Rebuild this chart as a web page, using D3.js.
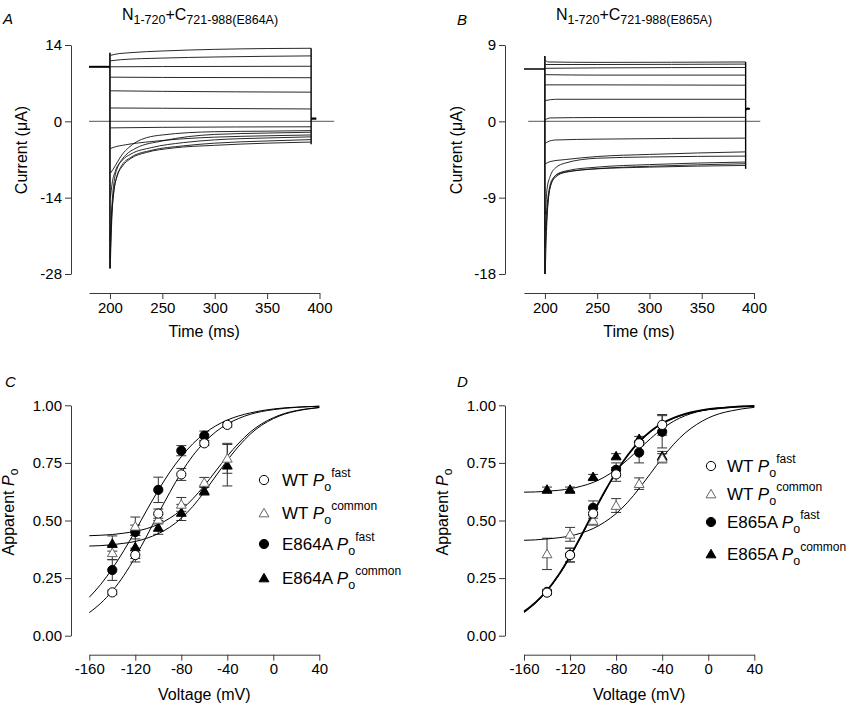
<!DOCTYPE html>
<html><head><meta charset="utf-8">
<script src="https://cdn.jsdelivr.net/npm/d3@7"></script>
<style>body{margin:0;background:#fff}svg{display:block;font-family:"Liberation Sans",Arial,Helvetica,sans-serif}</style>
</head><body><svg id="c" width="850" height="707"></svg>
<script>
// ---------------- DATA ----------------
// Panel A (E864A) current traces, time (ms) vs current (µA)
const holdingA = [[180, 10.0], [200, 10.0]];
const tailA = [[392, 0.5], [397, 0.5]];
const tracesA = [
  [[200.5,12.1],[205,12.3],[220,12.6],[250,12.9],[300,13.2],[350,13.35],[392,13.4]],
  [[200.5,11.1],[210,11.3],[250,11.6],[300,11.8],[392,12.0]],
  [[200.5,10.0],[250,10.05],[392,10.1]],
  [[200.5,8.1],[250,8.05],[392,8.0]],
  [[200.5,5.6],[250,5.5],[392,5.35]],
  [[200.5,2.45],[250,2.4],[392,2.27]],
  [[200.5,-1.2],[250,-1.1],[392,-1.0]],
  [[200.5,-5.0],[203,-4.8],[215,-4.3],[240,-3.7],[270,-3.2],[300,-2.9],[350,-2.65],[392,-2.5]],
  [[200.5,-9.5],[203,-8.8],[207,-7.5],[212,-6.0],[218,-4.8],[225,-3.8],[235,-3.0],[250,-2.5],[300,-1.9],[350,-1.8],[392,-1.7]],
  [[200.3,-27],[201,-22],[202,-17],[204,-12.5],[207,-10],[212,-8.2],[220,-6.8],[235,-5.7],[260,-4.9],[300,-4.4],[350,-4.0],[392,-3.8]],
  [[200.3,-25],[201.5,-18],[203,-14],[206,-10.5],[210,-8.5],[220,-6.6],[240,-5.3],[270,-4.5],[300,-4.0],[350,-3.6],[392,-3.35]],
  [[200.3,-22],[202,-15],[204,-11],[207,-8.6],[212,-7.1],[220,-6.0],[240,-4.8],[270,-3.9],[300,-3.4],[350,-3.05],[392,-2.85]],
  [[200.5,-14],[202,-11.5],[205,-9.2],[210,-7.4],[215,-6.2],[225,-4.9],[250,-3.6],[300,-2.4],[350,-2.15],[392,-2.0]]
];
// Panel B (E865A) current traces
const holdingB = [[180, 6.17], [200, 6.17]];
const tailB = [[392, 1.4], [394, 1.5], [396, 1.45]];
const tracesB = [
  [[200.5,7.2],[203,7.0],[250,6.95],[392,7.0]],
  [[200.5,6.7],[250,6.7],[392,6.75]],
  [[200.5,6.25],[250,6.3],[392,6.35]],
  [[200.5,5.5],[250,5.45],[392,5.45]],
  [[200.5,4.3],[250,4.3],[392,4.26]],
  [[200.5,2.45],[210,2.6],[250,2.6],[392,2.6]],
  [[200.5,0.2],[205,0.4],[250,0.45],[392,0.47]],
  [[200.5,-2.6],[203,-2.4],[210,-2.2],[250,-2.1],[392,-1.98]],
  [[200.5,-5.0],[205,-4.75],[220,-4.5],[250,-4.15],[300,-3.9],[392,-3.6]],
  [[200.5,-11],[202,-8],[205,-6.5],[210,-5.5],[220,-4.9],[250,-4.35],[300,-4.2],[392,-4.1]],
  [[200.3,-18],[201.5,-13],[203,-9.5],[205,-7.8],[210,-6.6],[220,-6.0],[250,-5.6],[300,-5.4],[392,-5.2]],
  [[200.3,-15],[202,-11],[204,-8.5],[207,-7.0],[212,-6.2],[222,-5.8],[250,-5.4],[300,-5.1],[392,-4.8]],
  [[200.3,-13],[202,-10],[205,-7.5],[208,-6.7],[215,-6.1],[230,-5.8],[260,-5.5],[300,-5.3],[392,-5.0]]
];
const tickTimes = [200, 250, 300, 350, 400];
const ticksA = [-28, -14, 0, 14];
const ticksB = [-18, -9, 0, 9];

// Panels C, D: apparent Po vs voltage
const voltages = [-140, -120, -100, -80, -60, -40];
const voltTicks = [-160, -120, -80, -40, 0, 40];
const poTicks = [0, 0.25, 0.5, 0.75, 1.0];
const fitV = [-160,-150,-140,-130,-120,-110,-100,-90,-80,-70,-60,-50,-40,-30,-20,-10,0,10,20,30,40];

const wtFastC    = [0.188, 0.35, 0.53, 0.70, 0.835, 0.915];
const wtFastCErr = [0.01, 0.03, 0.02, 0.026, 0.01, 0.01];
const wtComC     = [0.36, 0.475, 0.505, 0.57, 0.665, 0.77];
const wtComCErr  = [0.03, 0.04, 0.02, 0.03, 0.022, 0.065];
const e864Fast    = [0.285, 0.45, 0.633, 0.803, 0.868];
const e864FastErr = [0.045, 0.03, 0.055, 0.022, 0.02];
const e864Com     = [0.40, 0.385, 0.47, 0.535, 0.63, 0.74];
const e864ComErr  = [0.033, 0.05, 0.03, 0.035, 0.02, 0.09];

const wtFastD    = [0.187, 0.35, 0.53, 0.70, 0.835, 0.915];
const wtFastDErr = [0.01, 0.03, 0.02, 0.03, 0.01, 0.045];
const wtComD     = [0.355, 0.44, 0.50, 0.565, 0.66, 0.77];
const wtComDErr  = [0.068, 0.03, 0.02, 0.03, 0.025, 0.02];
const e865Fast    = [0.19, 0.35, 0.555, 0.72, 0.795, 0.885];
const e865FastErr = [0.01, 0.03, 0.03, 0.03, 0.045, 0.07];
const e865Com     = [0.635, 0.635, 0.69, 0.78, 0.855, 0.78];
const e865ComErr  = [0.01, 0.01, 0.01, 0.01, 0.01, 0.02];

// fitted curves (read at fitV)
const fitWtFast   = [.100,.141,.194,.261,.342,.433,.529,.622,.708,.781,.839,.885,.919,.943,.961,.973,.981,.987,.991,.994,.996];
const fitE864Fast = [.167,.223,.291,.369,.455,.545,.631,.710,.777,.833,.877,.911,.936,.954,.967,.977,.984,.989,.992,.994,.996];
const fitWtComC   = [.434,.436,.439,.445,.453,.465,.483,.510,.546,.594,.651,.715,.779,.836,.884,.920,.946,.965,.977,.985,.991];
const fitE864Com  = [.389,.391,.395,.401,.409,.423,.443,.471,.510,.561,.624,.693,.761,.823,.875,.914,.942,.962,.975,.984,.990];
const fitWtComD   = [.414,.416,.420,.425,.433,.446,.465,.493,.530,.579,.639,.705,.771,.831,.880,.917,.945,.964,.976,.985,.991];
const fitE865Fast = [.105,.145,.196,.263,.345,.437,.533,.625,.710,.783,.842,.888,.922,.946,.963,.975,.983,.988,.992,.995,.997];
const fitE865Com  = [.623,.624,.627,.631,.638,.649,.665,.689,.722,.764,.810,.856,.898,.931,.955,.971,.982,.989,.993,.996,.997];

// ---------------- DRAW ----------------
const svg = d3.select("#c");
const AX = "#3a3a3a";
const tickFont = 15, labFont = 16;

function styleAxis(g){
  g.selectAll("path,line").attr("stroke", AX).attr("stroke-width", 1);
  g.selectAll("text").attr("font-size", tickFont).attr("fill", "#000")
   .attr("font-family", '"Liberation Sans",Arial,sans-serif');
}

const xA = d3.scaleLinear().domain([180,400]).range([89,319.5]);
const yA = d3.scaleLinear().domain([-28,14]).range([274,45]);
const xB = d3.scaleLinear().domain([180,400]).range([524,754]);
const yB = d3.scaleLinear().domain([-18,9]).range([274,45]);
const xC = d3.scaleLinear().domain([-160,40]).range([89.3,319.3]);
const yC = d3.scaleLinear().domain([0,1]).range([635.7,405.3]);
const xD = d3.scaleLinear().domain([-160,40]).range([524,754.3]);
const yD = d3.scaleLinear().domain([0,1]).range([635.7,405.3]);

function tracePanel(x, y, yTicks, traces, holding, tail, zeroEnds, axX, axY, title, letter, letterPos, ylabPos, holdW){
  svg.append("line").attr("x1", x(zeroEnds[0])).attr("x2", x(zeroEnds[1]))
    .attr("y1", y(0)).attr("y2", y(0)).attr("stroke", "#777").attr("stroke-width", 1.2);
  const line = d3.line().x(d=>x(d[0])).y(d=>y(d[1])).curve(d3.curveMonotoneX);
  svg.append("path").attr("d", line(holding)).attr("fill","none").attr("stroke","#000").attr("stroke-width",holdW);
  const starts = traces.map(t=>t[0][1]);
  const ends = traces.map(t=>t[t.length-1][1]);
  const t0 = holding[holding.length-1][0];
  svg.append("line").attr("x1", x(t0)).attr("x2", x(t0))
    .attr("y1", y(d3.max(starts)+0.5)).attr("y2", y(d3.min(starts)))
    .attr("stroke","#000").attr("stroke-width",1.6);
  const t1 = traces[0][traces[0].length-1][0];
  svg.append("line").attr("x1", x(t1)).attr("x2", x(t1))
    .attr("y1", y(d3.max(ends))).attr("y2", y(d3.min(ends)-0.4))
    .attr("stroke","#000").attr("stroke-width",1.4);
  svg.append("g").selectAll("path").data(traces).join("path")
    .attr("d", line).attr("fill","none").attr("stroke","#111").attr("stroke-width",0.9);
  svg.append("path").attr("d", line(tail)).attr("fill","none").attr("stroke","#000").attr("stroke-width",2.2);
  const gy = svg.append("g").attr("transform", `translate(${axY},0)`)
    .call(d3.axisLeft(y).tickValues(yTicks).tickFormat(d=>String(d)).tickSize(6).tickSizeOuter(0));
  styleAxis(gy);
  const gx = svg.append("g").attr("transform", `translate(0,${axX})`)
    .call(d3.axisBottom(x).tickValues(tickTimes).tickFormat(d=>String(d)).tickSize(6).tickSizeOuter(0));
  styleAxis(gx);
  const xr = x.range();
  svg.append("text").attr("x",(xr[0]+xr[1])/2).attr("y",337).attr("text-anchor","middle")
    .attr("font-size",labFont).text("Time (ms)");
  const yl = svg.append("text").attr("transform",`translate(${ylabPos[0]},${ylabPos[1]}) rotate(-90)`)
    .attr("text-anchor","middle").attr("font-size",labFont);
  yl.append("tspan").text("Current (");
  yl.append("tspan").text("\u03BC");
  yl.append("tspan").text("A)");
  const tt = svg.append("text").attr("x", title.x).attr("y", 20).attr("text-anchor","middle").attr("font-size",16);
  tt.append("tspan").text("N");
  tt.append("tspan").attr("font-size",12.5).attr("dy",4).text("1-720");
  tt.append("tspan").attr("dy",-4).text("+C");
  tt.append("tspan").attr("font-size",12.5).attr("dy",4).text(title.sub);
  svg.append("text").attr("x",letterPos[0]).attr("y",letterPos[1]).attr("font-size",15)
    .attr("font-style","italic").text(letter);
}

tracePanel(xA, yA, ticksA, tracesA, holdingA, tailA, [180,414], 293, 71,
  {x:200, sub:"721-988(E864A)"}, "A", [3,24], [27,150], 2);
tracePanel(xB, yB, ticksB, tracesB, holdingB, tailB, [184,406], 293, 505,
  {x:634, sub:"721-988(E865A)"}, "B", [457,25], [462,150], 1.5);

const triangle = d3.symbol().type(d3.symbolTriangle).size(42);

function poPanel(x, y, series, fits, axY, letter, letterPos, ylabPos, legend){
  const line = d3.line().x((d,i)=>x(fitV[i])).y(d=>y(d)).curve(d3.curveMonotoneX);
  series.forEach(s=>{
    const g = svg.append("g").attr("stroke","#333").attr("stroke-width",1);
    s.vals.forEach((v,i)=>{
      const e = s.err[i]; if(!e) return;
      const cx = x(voltages[i]);
      g.append("line").attr("x1",cx).attr("x2",cx).attr("y1",y(v-e)).attr("y2",y(v+e));
      [v-e, v+e].forEach(w=>g.append("line").attr("x1",cx-5).attr("x2",cx+5).attr("y1",y(w)).attr("y2",y(w)));
    });
  });
  fits.forEach(f=>svg.append("path").attr("d", line(f.vals)).attr("fill","none")
    .attr("stroke","#000").attr("stroke-width", f.w));
  series.forEach(s=>{
    const g = svg.append("g");
    s.vals.forEach((v,i)=>drawMarker(g, s.shape, s.filled, x(voltages[i]), y(v)));
  });
  const gy = svg.append("g").attr("transform", `translate(${axY},0)`)
    .call(d3.axisLeft(y).tickValues(poTicks).tickFormat(d3.format(".2f")).tickSize(6).tickSizeOuter(0));
  styleAxis(gy);
  const gx = svg.append("g").attr("transform", `translate(0,654.7)`)
    .call(d3.axisBottom(x).tickValues(voltTicks).tickFormat(d=>String(d)).tickSize(6).tickSizeOuter(0));
  styleAxis(gx);
  const xr = x.range();
  svg.append("text").attr("x",(xr[0]+xr[1])/2).attr("y",700).attr("text-anchor","middle")
    .attr("font-size",labFont).text("Voltage (mV)");
  const yl = svg.append("text").attr("transform",`translate(${ylabPos[0]},${ylabPos[1]}) rotate(-90)`)
    .attr("text-anchor","middle").attr("font-size",labFont);
  yl.append("tspan").text("Apparent ");
  yl.append("tspan").attr("font-style","italic").text("P");
  yl.append("tspan").attr("font-size",12).attr("dy",4).text("o");
  svg.append("text").attr("x",letterPos[0]).attr("y",letterPos[1]).attr("font-size",15)
    .attr("font-style","italic").text(letter);
  legend.items.forEach((it,k)=>{
    const cy = legend.rows[k];
    drawMarker(svg, it.shape, it.filled, legend.mx, cy);
    const t = svg.append("text").attr("x", legend.tx).attr("y", cy+6).attr("font-size",17);
    t.append("tspan").text(it.name + " ");
    t.append("tspan").attr("font-style","italic").text("P");
    t.append("tspan").attr("font-size",12.5).attr("dy",5).text("o");
    t.append("tspan").attr("font-size",12).attr("dy",-14).text(it.sup);
  });
}

function drawMarker(g, shape, filled, cx, cy){
  if(shape==="circle"){
    g.append("circle").attr("cx",cx).attr("cy",cy).attr("r",4.6)
      .attr("fill", filled?"#000":"#fff").attr("stroke","#000").attr("stroke-width",1);
  } else {
    g.append("path").attr("d",triangle()).attr("transform",`translate(${cx},${cy+1})`)
      .attr("fill", filled?"#000":"#fff").attr("stroke", filled?"#000":"#666").attr("stroke-width",1);
  }
}

poPanel(xC, yC, [
  {vals:e864Com, err:e864ComErr, shape:"tri", filled:true},
  {vals:e864Fast, err:e864FastErr, shape:"circle", filled:true},
  {vals:wtComC, err:wtComCErr, shape:"tri", filled:false},
  {vals:wtFastC, err:wtFastCErr, shape:"circle", filled:false}
], [
  {vals:fitWtFast, w:1}, {vals:fitE864Fast, w:1}, {vals:fitWtComC, w:1}, {vals:fitE864Com, w:1}
], 71, "C", [5,387], [14,512], {
  mx:264, tx:282, rows:[480,513,544,578],
  items:[{name:"WT",sup:"fast",shape:"circle",filled:false},
         {name:"WT",sup:"common",shape:"tri",filled:false},
         {name:"E864A",sup:"fast",shape:"circle",filled:true},
         {name:"E864A",sup:"common",shape:"tri",filled:true}]
});

poPanel(xD, yD, [
  {vals:e865Com, err:e865ComErr, shape:"tri", filled:true},
  {vals:e865Fast, err:e865FastErr, shape:"circle", filled:true},
  {vals:wtComD, err:wtComDErr, shape:"tri", filled:false},
  {vals:wtFastD, err:wtFastDErr, shape:"circle", filled:false}
], [
  {vals:fitWtFast, w:1}, {vals:fitE865Fast, w:1.8}, {vals:fitWtComD, w:1}, {vals:fitE865Com, w:1}
], 505, "D", [457,387], [448,512], {
  mx:711, tx:727, rows:[466,494,522,554],
  items:[{name:"WT",sup:"fast",shape:"circle",filled:false},
         {name:"WT",sup:"common",shape:"tri",filled:false},
         {name:"E865A",sup:"fast",shape:"circle",filled:true},
         {name:"E865A",sup:"common",shape:"tri",filled:true}]
});
</script></body></html>
